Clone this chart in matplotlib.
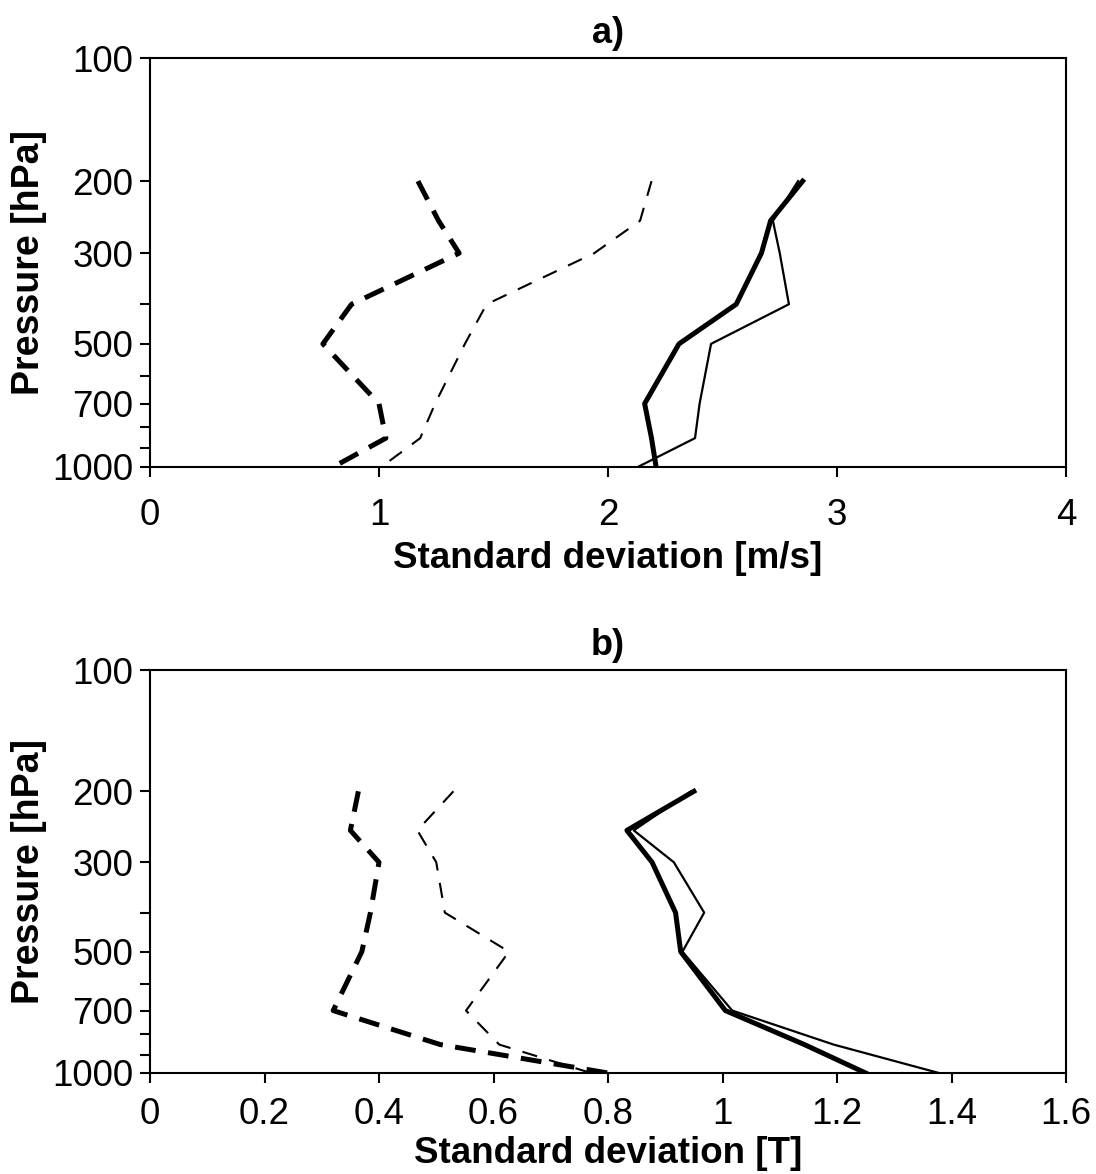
import matplotlib
matplotlib.use("Agg")
import matplotlib.pyplot as plt
from matplotlib.ticker import FixedLocator, NullLocator

plt.rcParams['font.family'] = ['Liberation Sans', 'DejaVu Sans']
plt.rcParams['lines.scale_dashes'] = False

levels = [200, 250, 300, 400, 500, 700, 850, 1000]

# Panel a: wind standard deviation [m/s]
a_thick_dashed = [1.17, 1.26, 1.35, 0.88, 0.755, 1.00, 1.03, 0.80]
a_thin_dashed = [2.19, 2.14, 1.94, 1.47, 1.375, 1.245, 1.18, 1.01]
a_thick_solid = [2.85, 2.71, 2.67, 2.56, 2.31, 2.16, 2.19, 2.21]
a_thin_solid = [2.83, 2.72, 2.75, 2.79, 2.45, 2.40, 2.38, 2.13]

# Panel b: temperature standard deviation [T]
b_thick_dashed = [0.364, 0.35, 0.40, 0.385, 0.37, 0.32, 0.507, 0.80]
b_thin_dashed = [0.53, 0.467, 0.50, 0.515, 0.627, 0.552, 0.61, 0.77]
b_thick_solid = [0.95, 0.833, 0.877, 0.918, 0.927, 1.005, 1.143, 1.25]
b_thin_solid = [0.945, 0.845, 0.915, 0.968, 0.93, 1.017, 1.194, 1.378]

ytick_pos = [100, 200, 300, 400, 500, 600, 700, 800, 900, 1000]
ytick_lab = ['100', '200', '300', '', '500', '', '700', '', '', '1000']

a_xticks = [0, 1, 2, 3, 4]
a_xlabels = ['0', '1', '2', '3', '4']
b_xticks = [0, 0.2, 0.4, 0.6, 0.8, 1.0, 1.2, 1.4, 1.6]
b_xlabels = ['0', '0.2', '0.4', '0.6', '0.8', '1', '1.2', '1.4', '1.6']

W, H = 1096, 1174
fig = plt.figure(figsize=(W / 100, H / 100), dpi=100)

def px_axes(left, top, right, bottom):
    return fig.add_axes([left / W, 1 - bottom / H, (right - left) / W, (bottom - top) / H])

ax_a = px_axes(150, 58, 1066, 467)
ax_b = px_axes(150, 670, 1066, 1073)

FS = 26.5

def style(ax, xmax, xticks, xlabels, title, xlabel, xpad, lpad):
    ax.set_yscale('log')
    ax.set_ylim(1000, 100)
    ax.set_xlim(0, xmax)
    ax.yaxis.set_major_locator(FixedLocator(ytick_pos))
    ax.yaxis.set_minor_locator(NullLocator())
    ax.set_yticklabels(ytick_lab)
    ax.set_xticks(xticks)
    ax.set_xticklabels(xlabels)
    ax.tick_params(axis='both', direction='out', length=7, width=1.5,
                   labelsize=FS, colors='black')
    ax.tick_params(axis='x', pad=xpad)
    ax.tick_params(axis='y', pad=5)
    for s in ax.spines.values():
        s.set_linewidth(1.5)
    ax.set_title(title, fontsize=26, fontweight='bold', pad=11)
    ax.set_xlabel(xlabel, fontsize=FS, fontweight='bold', labelpad=lpad)
    ax.set_ylabel('Pressure [hPa]', fontsize=27, fontweight='bold', labelpad=4)

def draw(ax, thick_d, thin_d, thick_s, thin_s):
    ax.plot(thick_d, levels, color='black', lw=3.6, dashes=(15, 9))
    ax.plot(thin_d, levels, color='black', lw=1.5, dashes=(11, 9))
    ax.plot(thick_s, levels, color='black', lw=3.6)
    ax.plot(thin_s, levels, color='black', lw=1.6)

draw(ax_a, a_thick_dashed, a_thin_dashed, a_thick_solid, a_thin_solid)
style(ax_a, 4, a_xticks, a_xlabels, 'a)', 'Standard deviation [m/s]', 15, 6)

draw(ax_b, b_thick_dashed, b_thin_dashed, b_thick_solid, b_thin_solid)
style(ax_b, 1.6, b_xticks, b_xlabels, 'b)', 'Standard deviation [T]', 10, 3)

fig.savefig('out.png', dpi=100)
